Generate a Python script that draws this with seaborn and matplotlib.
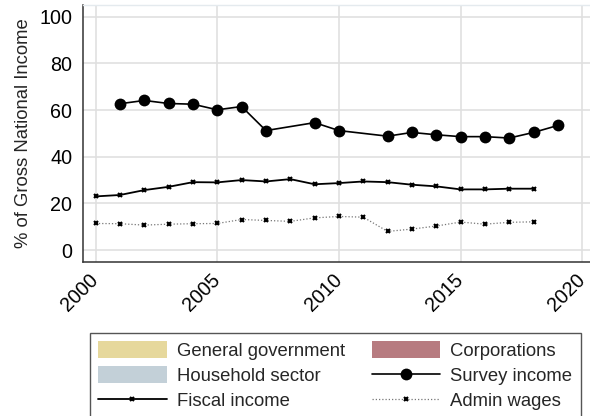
import matplotlib
matplotlib.use("Agg")
import matplotlib.pyplot as plt
from matplotlib.patches import Patch
from matplotlib.lines import Line2D
import seaborn as sns

# Series, % of Gross National Income
survey_years = [2001, 2002, 2003, 2004, 2005, 2006, 2007, 2009, 2010,
                2012, 2013, 2014, 2015, 2016, 2017, 2018, 2019]
survey_income = [62.7, 64.1, 62.8, 62.5, 60.1, 61.5, 51.2, 54.6, 51.2,
                 48.8, 50.4, 49.4, 48.6, 48.6, 48.0, 50.4, 53.4]

admin_years = list(range(2000, 2019))
fiscal_income = [23.0, 23.6, 25.7, 27.1, 29.1, 29.0, 30.0, 29.4, 30.4, 28.2,
                 28.7, 29.4, 29.1, 28.0, 27.3, 26.0, 26.0, 26.3, 26.3]
admin_wages = [11.4, 11.3, 10.7, 11.1, 11.3, 11.4, 13.1, 12.7, 12.3, 13.8,
               14.4, 14.1, 8.0, 9.0, 10.3, 12.0, 11.1, 11.9, 12.1]

sector_labels = ["General government", "Corporations", "Household sector"]
sector_colors = ["#e6d89c", "#b77b80", "#c3d0d8"]

x_ticks = [2000, 2005, 2010, 2015, 2020]
y_ticks = [0, 20, 40, 60, 80, 100]

sns.set_theme(style="whitegrid")
plt.rcParams["font.family"] = ["Liberation Sans", "DejaVu Sans"]

fig = plt.figure(figsize=(5.9, 4.16), dpi=100)
ax = fig.add_axes([0.1415, 0.370, 0.8585, 0.618])

sns.lineplot(x=survey_years, y=survey_income, ax=ax, color="black",
             linewidth=1.2, marker="o", markersize=8.5, markeredgewidth=0,
             markerfacecolor="black")
sns.lineplot(x=admin_years, y=fiscal_income, ax=ax, color="black",
             linewidth=1.3, marker="x", markersize=3.5, markeredgewidth=1.5,
             markeredgecolor="black")
sns.lineplot(x=admin_years, y=admin_wages, ax=ax, color="#777777",
             linewidth=0.9, linestyle=(0, (1, 1.6)), marker="x", markersize=3.5,
             markeredgewidth=1.5, markeredgecolor="black")

ax.set_xlim(1999.5, 2020.32)
ax.set_ylim(-5.14, 105)
ax.set_xticks(x_ticks)
ax.set_yticks(y_ticks)
ax.set_xticklabels([str(t) for t in x_ticks], rotation=45, ha="right",
                   va="center", rotation_mode="anchor")
ax.tick_params(axis="both", labelsize=14.2, colors="black", length=5,
               width=1, direction="out", pad=3)
ax.tick_params(axis="x", color="#333333", pad=6)
ax.tick_params(axis="y", color="#333333")
ax.set_ylabel("% of Gross National Income", fontsize=13.3, labelpad=5)
ax.set_xlabel("")

ax.grid(True, color="#e0e0e0", linewidth=1.2)
ax.set_axisbelow(True)
ax.set_facecolor("white")
for side in ["left", "bottom"]:
    ax.spines[side].set_color("#333333")
    ax.spines[side].set_linewidth(1.1)
ax.spines["top"].set_color("#e4eaee")
ax.spines["top"].set_linewidth(1.0)
ax.spines["right"].set_visible(False)

# Legend in row-major order across two columns
h = {lab: Patch(facecolor=c, edgecolor="none") for lab, c in zip(sector_labels, sector_colors)}
h["Survey income"] = Line2D([], [], color="black", linewidth=1.2, marker="o",
                            markersize=8.5, markeredgewidth=0)
h["Fiscal income"] = Line2D([], [], color="black", linewidth=1.3, marker="x",
                            markersize=3.5, markeredgewidth=1.5)
h["Admin wages"] = Line2D([], [], color="#777777", linewidth=0.9,
                          linestyle=(0, (1, 1.6)), marker="x", markersize=3.5,
                          markeredgewidth=1.5, markeredgecolor="black")
order = ["General government", "Household sector", "Fiscal income",
         "Corporations", "Survey income", "Admin wages"]
leg = fig.legend([h[k] for k in order], order, ncol=2, loc="upper left",
                 bbox_to_anchor=(90 / 590, 1 - 333 / 416),
                 fontsize=13.3, frameon=True, fancybox=False,
                 edgecolor="#555555", framealpha=1, borderpad=0.45,
                 handlelength=3.7, handleheight=1.0, handletextpad=0.55,
                 labelspacing=0.35, columnspacing=1.45, borderaxespad=0)
leg.get_frame().set_linewidth(1.0)

fig.savefig("out.png", dpi=100)
